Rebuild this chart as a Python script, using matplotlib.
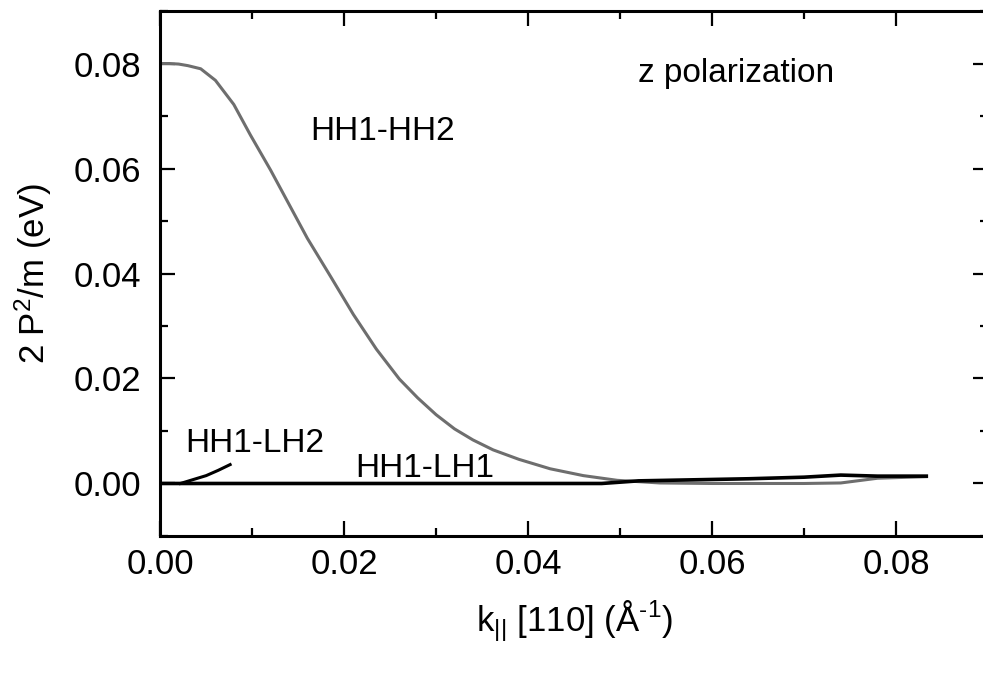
import matplotlib
matplotlib.use("Agg")
import matplotlib.pyplot as plt
from matplotlib.ticker import MultipleLocator

plt.rcParams['font.family'] = ['Liberation Sans', 'DejaVu Sans']
plt.rcParams['mathtext.fontset'] = 'custom'
plt.rcParams['mathtext.rm'] = 'Liberation Sans'
plt.rcParams['mathtext.it'] = 'Liberation Sans'

# HH1-HH2 (gray)
k_hh2 = [0.0, 0.001, 0.002, 0.003, 0.0044, 0.006, 0.008, 0.0098, 0.012, 0.014, 0.016,
         0.0185, 0.021, 0.0235, 0.026, 0.028, 0.030, 0.032, 0.034, 0.0362, 0.039,
         0.0424, 0.046, 0.0497, 0.0543, 0.06, 0.065, 0.07, 0.074, 0.078, 0.0833]
v_hh2 = [0.080, 0.0800, 0.0799, 0.0796, 0.0790, 0.0768, 0.0722, 0.0664, 0.0597, 0.0532, 0.0467,
         0.0395, 0.0322, 0.0256, 0.0199, 0.0163, 0.0131, 0.0104, 0.0083, 0.0064, 0.0046,
         0.0028, 0.0015, 0.0006, 0.0001, 0.0000, 0.0000, 0.0000, 0.0001, 0.0010, 0.0013]
# HH1-LH1 (black)
k_lh1 = [0.0, 0.01, 0.02, 0.03, 0.04, 0.048, 0.052, 0.058, 0.064, 0.07, 0.074, 0.078, 0.0833]
v_lh1 = [0.0, 0.0, 0.0, 0.0, 0.0, 0.0000, 0.0005, 0.0007, 0.0009, 0.0012, 0.0016, 0.0014, 0.0014]
# HH1-LH2 (black, short)
k_lh2 = [0.0022, 0.0035, 0.005, 0.0063, 0.0076]
v_lh2 = [0.0, 0.0007, 0.0015, 0.0025, 0.0036]

fig = plt.figure(figsize=(9.83, 6.73), dpi=100)
ax = fig.add_axes([0.163, 0.2036, 0.842, 0.78])

ax.plot(k_hh2, v_hh2, color='#6e6e6e', lw=2.2)
ax.plot(k_lh1, v_lh1, color='black', lw=2.6)
ax.plot(k_lh2, v_lh2, color='black', lw=2.2)

ax.set_xlim(0, 0.09)
ax.set_ylim(-0.01, 0.09)
ax.set_xticks([0.0, 0.02, 0.04, 0.06, 0.08])
ax.set_yticks([0.0, 0.02, 0.04, 0.06, 0.08])
ax.xaxis.set_minor_locator(MultipleLocator(0.01))
ax.yaxis.set_minor_locator(MultipleLocator(0.01))
ax.tick_params(which='both', direction='in', top=True, right=True,
               labelsize=25, width=1.6)
ax.tick_params(axis='x', pad=9)
ax.tick_params(axis='y', pad=14)
ax.tick_params(which='major', length=11)
ax.tick_params(which='minor', length=5.5)
ax.xaxis.set_major_formatter(plt.FuncFormatter(lambda v, p: f"{v:.2f}"))
ax.yaxis.set_major_formatter(plt.FuncFormatter(lambda v, p: f"{v:.2f}"))
for s in ax.spines.values():
    s.set_linewidth(2.2)

ax.set_xlabel(r'k$_{||}$ [110] (Å$^{\text{-1}}$)', fontsize=25, labelpad=12)
ax.set_ylabel(r'2 P$^2$/m (eV)', fontsize=25, labelpad=14)

ax.text(0.052, 0.0781, 'z polarization', fontsize=24, va='center')
ax.text(0.0163, 0.067, 'HH1-HH2', fontsize=24, va='center')
ax.text(0.0027, 0.0077, 'HH1-LH2', fontsize=24, va='center')
ax.text(0.0212, 0.0029, 'HH1-LH1', fontsize=24, va='center')

fig.savefig('out.png', dpi=100)
